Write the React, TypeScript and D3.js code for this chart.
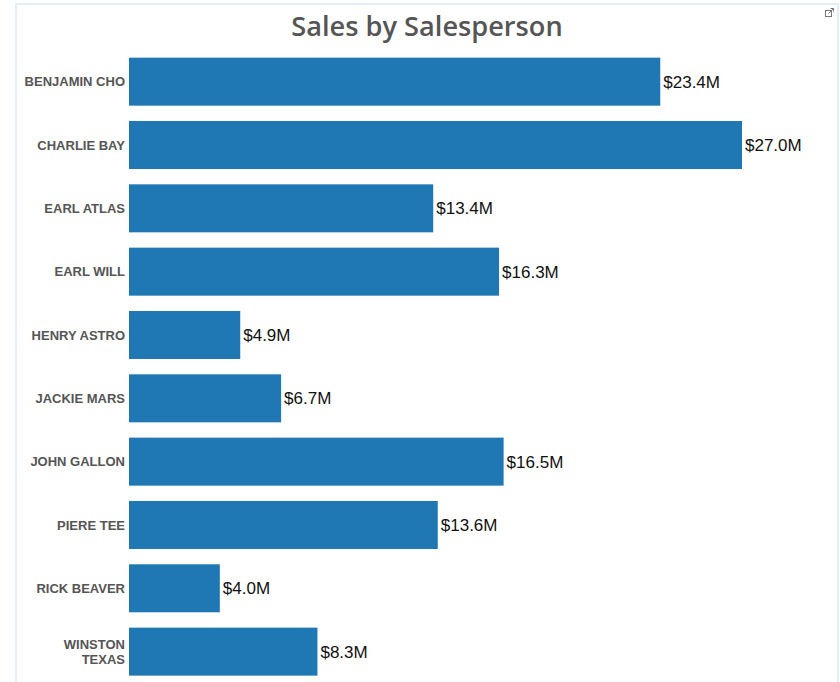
import React from "react";
import * as d3 from "d3";

const names: string[][] = [
  ["BENJAMIN CHO"],
  ["CHARLIE BAY"],
  ["EARL ATLAS"],
  ["EARL WILL"],
  ["HENRY ASTRO"],
  ["JACKIE MARS"],
  ["JOHN GALLON"],
  ["PIERE TEE"],
  ["RICK BEAVER"],
  ["WINSTON", "TEXAS"],
];
const sales: number[] = [23.4, 27.0, 13.4, 16.3, 4.9, 6.7, 16.5, 13.6, 4.0, 8.3];
const title = "Sales by Salesperson";

const W = 840;
const H = 682;

export default function App() {
  const keys = names.map((n) => n.join(" "));
  const x = d3.scaleLinear().domain([0, 27]).range([129, 742]);
  const y = d3
    .scaleBand<string>()
    .domain(keys)
    .range([50, 683.3])
    .paddingInner(0.242)
    .paddingOuter(0.121);
  const fmt = (v: number) => `$${d3.format(".1f")(v)}M`;

  return (
    <svg
      width={W}
      height={H}
      style={{ position: "absolute", left: 0, top: 0, background: "#fff" }}
    >
      <rect x={16} y={4} width={822} height={720} fill="#fff" stroke="#e3eff8" strokeWidth={2} />
      <text
        x={427}
        y={36}
        textAnchor="middle"
        fontFamily="'Open Sans', sans-serif"
        fontWeight={600}
        fontSize={27.2}
        fill="#555555"
      >
        {title}
      </text>
      <g transform="translate(825,8)" fill="none" stroke="#777" strokeWidth={1}>
        <rect x={0.5} y={2.5} width={6} height={6} />
        <path d="M3.5,5.5 L8.5,0.5 M5.5,0.5 L8.5,0.5 L8.5,3.5" />
      </g>
      {keys.map((k, i) => {
        const yy = y(k)!;
        const bw = y.bandwidth();
        const lines = names[i];
        const cy = yy + bw / 2;
        return (
          <g key={k}>
            <rect x={x(0)} y={yy} width={x(sales[i]) - x(0)} height={bw} fill="#1f77b4" />
            <text
              x={x(sales[i]) + 3}
              y={cy}
              dy="0.35em"
              fontFamily="'Liberation Sans', Arial, sans-serif"
              fontSize={17}
              fill="#111"
            >
              {fmt(sales[i])}
            </text>
            <text
              x={125}
              y={cy - ((lines.length - 1) * 15) / 2}
              textAnchor="end"
              fontFamily="'Liberation Sans', Arial, sans-serif"
              fontWeight="bold"
              fontSize={13}
              fill="#555555"
            >
              {lines.map((l, j) => (
                <tspan key={j} x={125} dy={j === 0 ? "0.35em" : 15}>
                  {l}
                </tspan>
              ))}
            </text>
          </g>
        );
      })}
    </svg>
  );
}
